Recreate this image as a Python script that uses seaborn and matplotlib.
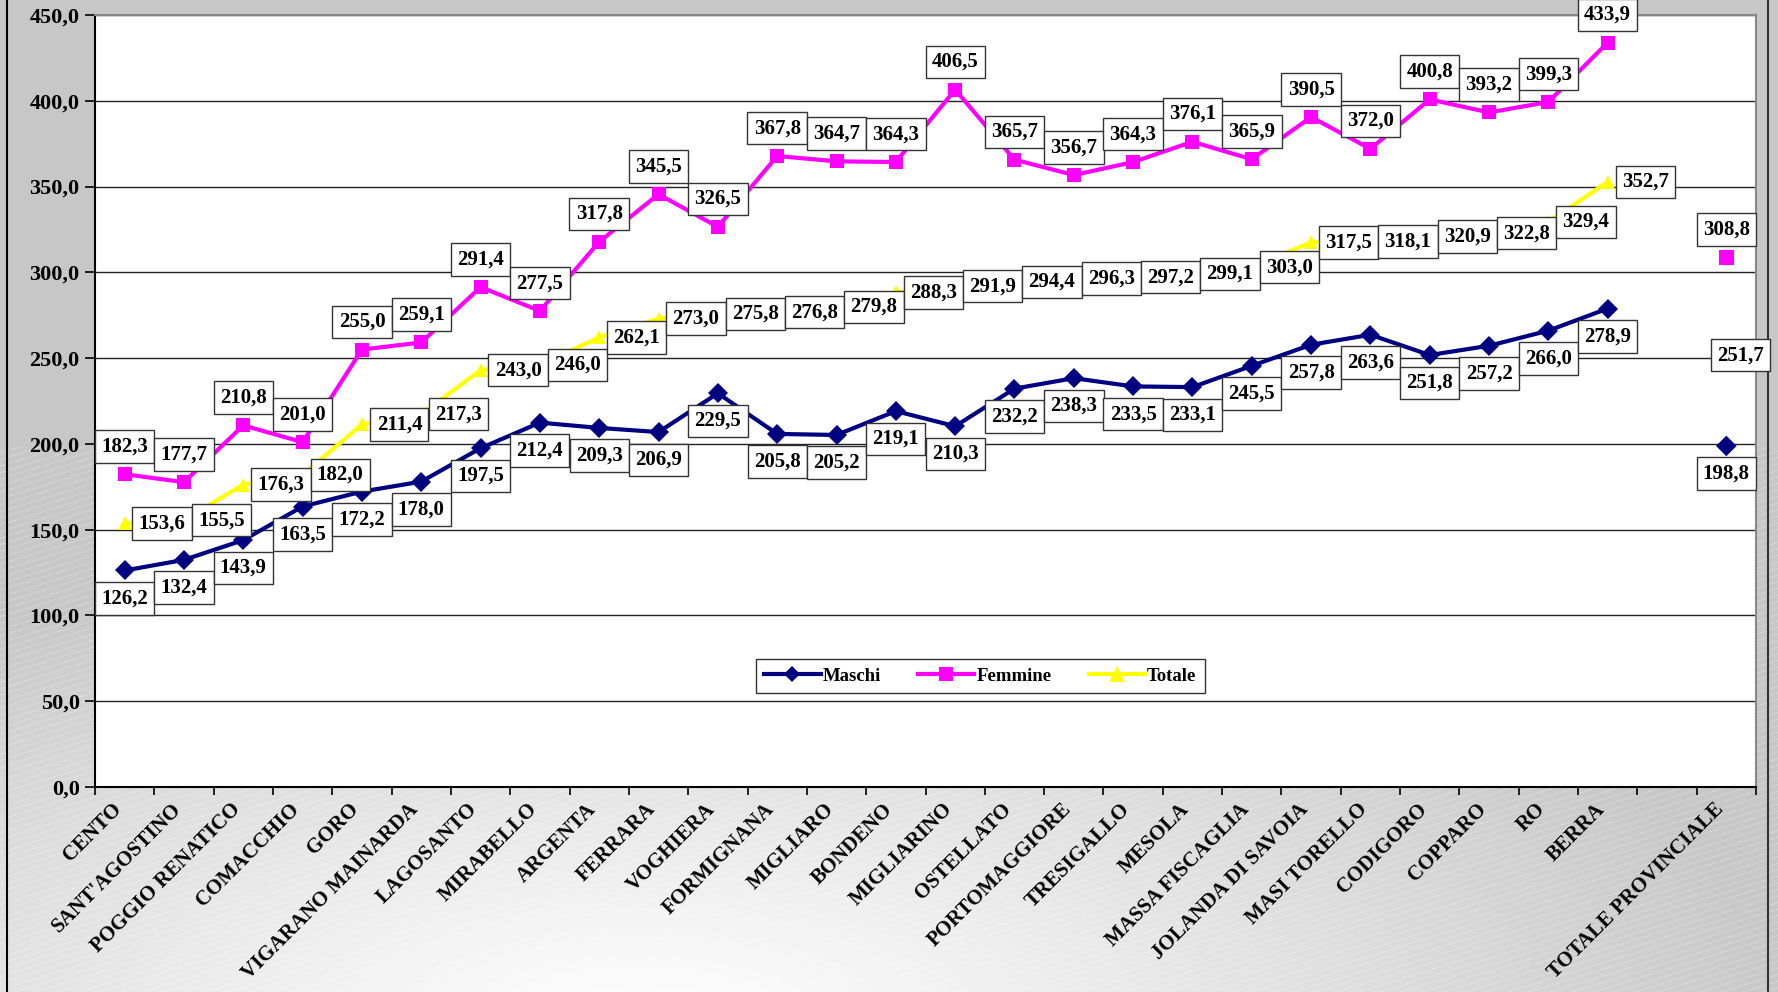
import numpy as np
import pandas as pd
import matplotlib
matplotlib.use("Agg")
import matplotlib.pyplot as plt
import matplotlib.transforms as mtransforms
import seaborn as sns

categories = ["CENTO", "SANT'AGOSTINO", "POGGIO RENATICO", "COMACCHIO", "GORO",
              "VIGARANO MAINARDA", "LAGOSANTO", "MIRABELLO", "ARGENTA", "FERRARA",
              "VOGHIERA", "FORMIGNANA", "MIGLIARO", "BONDENO", "MIGLIARINO",
              "OSTELLATO", "PORTOMAGGIORE", "TRESIGALLO", "MESOLA", "MASSA FISCAGLIA",
              "JOLANDA DI SAVOIA", "MASI TORELLO", "CODIGORO", "COPPARO", "RO", "BERRA",
              "", "TOTALE PROVINCIALE"]

maschi = [126.2, 132.4, 143.9, 163.5, 172.2, 178.0, 197.5, 212.4, 209.3, 206.9,
          229.5, 205.8, 205.2, 219.1, 210.3, 232.2, 238.3, 233.5, 233.1, 245.5,
          257.8, 263.6, 251.8, 257.2, 266.0, 278.9]
femmine = [182.3, 177.7, 210.8, 201.0, 255.0, 259.1, 291.4, 277.5, 317.8, 345.5,
           326.5, 367.8, 364.7, 364.3, 406.5, 365.7, 356.7, 364.3, 376.1, 365.9,
           390.5, 372.0, 400.8, 393.2, 399.3, 433.9]
totale = [153.6, 155.5, 176.3, 182.0, 211.4, 217.3, 243.0, 246.0, 262.1, 273.0,
          275.8, 276.8, 279.8, 288.3, 291.9, 294.4, 296.3, 297.2, 299.1, 303.0,
          317.5, 318.1, 320.9, 322.8, 329.4, 352.7]
prov_maschi = 198.8
prov_femmine = 308.8
prov_totale = 251.7

series = ["Maschi", "Femmine", "Totale"]
colors = {"Maschi": "#000080", "Femmine": "#FF00FF", "Totale": "#FFFF00"}
markers = {"Maschi": "D", "Femmine": "s", "Totale": "^"}
msizes = {"Maschi": 8, "Femmine": 10, "Totale": 11}

n_com = len(maschi)
rows = []
for s, vals in zip(series, [maschi, femmine, totale]):
    for i, v in enumerate(vals):
        rows.append({"pos": i, "val": v, "serie": s})
df = pd.DataFrame(rows)
prov_pos = len(categories) - 1
df_prov = pd.DataFrame({"pos": [prov_pos] * 3,
                        "val": [prov_maschi, prov_femmine, prov_totale],
                        "serie": series})

W, H = 1778, 992
fig = plt.figure(figsize=(W / 100, H / 100), dpi=100)

# background gradient
bg = fig.add_axes([0, 0, 1, 1], zorder=-10)
yy, xx = np.mgrid[0:1:200j, 0:1:360j]
d = np.sqrt(((xx - 0.36) * 1.3) ** 2 + ((yy - 1.05) * 1.7) ** 2)
g = np.clip(1.0 - 0.22 * np.clip(d / 0.85, 0, 1) ** 1.1, 0.78, 1.0)
bg.imshow(g, cmap="gray", vmin=0, vmax=1, extent=[0, 1, 0, 1], aspect="auto", origin="upper")
for k in np.arange(-1.0, 1.0, 0.012):
    bg.plot([k, k + 1.0], [0, 0.55], color="white", lw=0.5, alpha=0.35)
bg.plot([7 / W, 7 / W], [0, 1], color="black", lw=1.5)
bg.plot([1768 / W, 1768 / W], [0, 1], color="#333333", lw=1.5)
bg.set_xlim(0, 1)
bg.set_ylim(0, 1)
bg.axis("off")

left, right = 95 / W, 1756 / W
bottom, top = 1 - 787 / H, 1 - 15 / H
ax = fig.add_axes([left, bottom, right - left, top - bottom])
ax.set_facecolor("white")

sns.lineplot(data=df, x="pos", y="val", hue="serie", style="serie",
             palette=colors, markers=markers, dashes=False, lw=3.0,
             markersize=10, markeredgewidth=0, ax=ax, legend=True, sort=False)
sns.scatterplot(data=df_prov, x="pos", y="val", hue="serie", style="serie",
                palette=colors, markers=markers, s=110, linewidth=0, ax=ax, legend=False)

for line in ax.lines:
    lab = line.get_label()
    if lab in msizes:
        line.set_markersize(msizes[lab])

ax.set_xlim(-0.5, len(categories) - 0.5)
ax.set_ylim(0, 450)
ax.set_yticks(np.arange(0, 451, 50))
ax.set_yticklabels([f"{v:.1f}".replace(".", ",") for v in np.arange(0, 451, 50)])
ax.grid(False)
for v in np.arange(50, 451, 50):
    ax.axhline(v, color="#222222", lw=1.0, zorder=0)

ax.set_xticks(np.arange(len(categories)))
ax.set_xticklabels(categories, rotation=45, ha="right", rotation_mode="anchor")
ax.set_xticks(np.arange(-0.5, len(categories), 1), minor=True)
ax.tick_params(axis="x", which="major", length=0, pad=9)
ax.tick_params(axis="x", which="minor", length=6, width=1.2, color="black")
ax.tick_params(axis="y", length=7, width=1.2, color="black", pad=4)

font = "Liberation Serif"
shift = mtransforms.ScaledTranslation(-0.13, 0.0, fig.dpi_scale_trans)
for t in ax.get_xticklabels():
    t.set_fontfamily(font); t.set_fontweight("bold"); t.set_fontsize(15)
    t.set_transform(t.get_transform() + shift)
for t in ax.get_yticklabels():
    t.set_fontfamily(font); t.set_fontweight("bold"); t.set_fontsize(16)

for sp in ["top", "right"]:
    ax.spines[sp].set_color("#888888")
    ax.spines[sp].set_linewidth(1.5)
for sp in ["left", "bottom"]:
    ax.spines[sp].set_color("black")
    ax.spines[sp].set_linewidth(1.5)
ax.set_xlabel("")
ax.set_ylabel("")

box = dict(boxstyle="square,pad=0.3", fc="white", ec="#333333", lw=1.0)
lab_kw = dict(fontfamily=font, fontweight="bold", fontsize=15, zorder=10,
              textcoords="offset points", bbox=box, va="center", ha="center")

def fmt(v):
    return f"{v:.1f}".replace(".", ",")

pad_n = len(categories) - 1 - n_com
all_m = maschi + [None] * pad_n + [prov_maschi]
all_f = femmine + [None] * pad_n + [prov_femmine]
all_t = totale + [None] * pad_n + [prov_totale]
for i in range(len(categories)):
    if all_m[i] is not None:
        ax.annotate(fmt(all_m[i]), (i, all_m[i]), xytext=(0, -20), **lab_kw)
    if all_f[i] is not None:
        ax.annotate(fmt(all_f[i]), (i, all_f[i]), xytext=(0, 20), **lab_kw)
    if all_t[i] is not None:
        dx = 27 if i < prov_pos else 10
        ax.annotate(fmt(all_t[i]), (i, all_t[i]), xytext=(dx, 0), **lab_kw)

leg = ax.legend(loc="center", bbox_to_anchor=(0.533, 0.1436), ncol=3, frameon=True,
                fancybox=False, edgecolor="black", handlelength=3.0, columnspacing=2.0,
                handletextpad=0.1, borderpad=0.45,
                prop={"family": font, "weight": "bold", "size": 13.5})
leg.get_frame().set_linewidth(1.0)
leg.set_title(None)
for h in leg.legend_handles:
    h.set_linewidth(3)

fig.savefig("out.png", dpi=100)
